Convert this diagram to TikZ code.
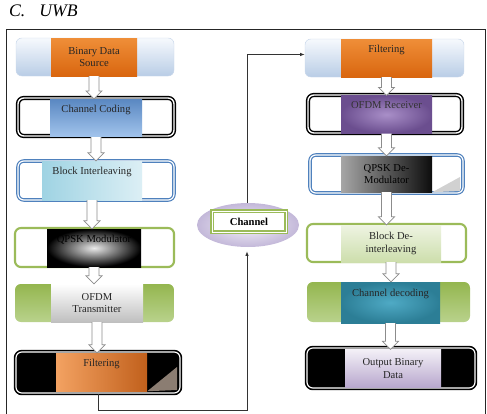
\documentclass[tikz,border=0pt]{standalone}
\usepackage{fontspec}
\setmainfont{Liberation Serif}
\usetikzlibrary{calc,shapes.geometric,arrows.meta}

\definecolor{skyhi}{HTML}{F6F9FD}
\definecolor{skylo}{HTML}{B9CDE6}
\definecolor{skyrim}{HTML}{C9D7EA}
\definecolor{orhi}{HTML}{EF8E38}
\definecolor{orlo}{HTML}{D9660F}
\definecolor{ofhi}{HTML}{F3A262}
\definecolor{oflo}{HTML}{C1601C}
\definecolor{ofold}{HTML}{8B7D72}
\definecolor{bluehi}{HTML}{5A88C2}
\definecolor{bluelo}{HTML}{A2C4EC}
\definecolor{bluerim}{HTML}{4F81BD}
\definecolor{cyanhi}{HTML}{9FD3E3}
\definecolor{cyanlo}{HTML}{DCEFF5}
\definecolor{leaf}{HTML}{9BBB59}
\definecolor{leafhi}{HTML}{94B64F}
\definecolor{leaflo}{HTML}{B9D28C}
\definecolor{leafpale}{HTML}{EEF4E2}
\definecolor{leafmid}{HTML}{CDDEAC}
\definecolor{plumhi}{HTML}{A98FC8}
\definecolor{plumlo}{HTML}{6B4E8F}
\definecolor{tealhi}{HTML}{4FAAC5}
\definecolor{teallo}{HTML}{2C7E96}
\definecolor{lavhi}{HTML}{F3F0F7}
\definecolor{lavlo}{HTML}{B8A7CD}
\definecolor{mist}{HTML}{F4F1F9}
\definecolor{mistlo}{HTML}{C3B8D9}

\begin{document}
\begin{tikzpicture}[x=0.85pt,y=-0.85pt,
    font=\fontsize{9}{10.5}\selectfont,
    px/.style 2 args={minimum width=#1*0.85pt, minimum height=#2*0.85pt},
    shell/.style={rectangle, rounded corners=5pt, inner sep=0pt},
    core/.style={rectangle, inner sep=0pt, align=center, text=black!85},
    upper/.style={text height=11pt, text depth=21pt},
    lightshell/.style={shell, top color=skyhi, bottom color=skylo, draw=skyrim},
    greenshell/.style={shell, top color=leafhi, bottom color=leaflo},
    blackring/.style={shell, fill=white, draw=black, line width=1.2pt,
        double=white, double distance=1.2pt},
    bluering/.style={shell, fill=white, draw=bluerim, line width=1pt,
        double=white, double distance=1pt},
    greenring/.style={shell, fill=white, draw=leaf, line width=1.8pt},
    blackshell/.style={shell, fill=black, draw=black, line width=1.4pt,
        double=white, double distance=1pt},
    link/.style={draw=black!80, line width=0.7pt},
    pipe/.style={draw=black!45, fill=white, line width=0.6pt},
    outline/.style={draw=black!85, line width=0.7pt}]
  \def\pipe#1#2{\draw[pipe] ($(#1.south)+(-5,0)$)
      -- ($(#1.south |- #2.north)+(-5,-8)$) -- ++(-3,0)
      -- (#1.south |- #2.north) -- ++(8,-8) -- ++(-3,0)
      -- ($(#1.south)+(5,0)$);}
  \useasboundingbox (0,0) rectangle (487,414);
  \node[anchor=base west, font=\itshape\fontsize{15}{18}\selectfont]
    (title) at (5,16) {C.\hskip 12pt UWB};
  \draw[outline] (6.5,414) -- (6.5,29.5) -- (485,29.5) -- (485,414);
  % transmitter side
  \node[lightshell, px={158}{38}] (srcbox) at (95,57) {};
  \node[core, px={86}{38}, top color=orhi, bottom color=orlo]
    (src) at (94,57) {Binary Data\\Source};
  \node[blackring, px={156}{38}] (codbox) at (96,117) {};
  \node[core, upper, px={92}{34}, top color=bluehi, bottom color=bluelo]
    (cod) at (96,118) {Channel Coding};
  \node[bluering, px={156}{39}] (intbox) at (96,180.5) {};
  \node[core, upper, px={100}{39}, left color=cyanhi, right color=cyanlo]
    (int) at (92,180.5) {Block Interleaving};
  \node[greenring, px={159}{39}] (qpskbox) at (94.5,247.5) {};
  \node[core, upper, px={94}{38}, inner color=black!8, outer color=black,
    text=black] (qpsk) at (94,248) {QPSK Modulator};
  \node[greenshell, px={159}{38}] (txbox) at (94.5,303) {};
  \node[core, px={92}{38}, top color=white, bottom color=black!25]
    (tx) at (97,303) {OFDM\\Transmitter};
  \node[blackshell, px={164}{41}] (lfbox) at (98,372.5) {};
  \node[core, upper, px={91}{38}, left color=ofhi, right color=oflo]
    (lf) at (101.5,372) {Filtering};
  \fill[ofold] (lf.south east) -- (177,367) -- (177,390) -- cycle;
  \pipe{src}{cod}
  \pipe{cod}{int}
  \pipe{int}{qpsk}
  \pipe{qpsk}{tx}
  \pipe{tx}{lf}
  % receiver side
  \node[lightshell, px={159}{38}] (rfbox) at (384.5,58) {};
  \node[core, upper, px={91}{38}, top color=orhi, bottom color=orlo]
    (rf) at (386.5,58) {Filtering};
  \node[blackring, px={154}{38}] (rxbox) at (385,114) {};
  \node[core, upper, px={91}{35}, inner color=plumhi, outer color=plumlo,
    text=black!80] (rx) at (386.5,114.5) {OFDM Receiver};
  \node[bluering, px={153}{38}] (dmbox) at (386.5,174) {};
  \node[core, px={91}{36}, left color=black!35, right color=black!95,
    text=black] (dm) at (386.5,174) {QPSK De-\\Modulator};
  \fill[black!18] (dm.south east) -- (460,177) -- (460,191) -- cycle;
  \node[greenring, px={159}{38}] (dibox) at (386.5,243) {};
  \node[core, px={100}{37}, top color=leafpale, bottom color=leafmid]
    (di) at (391,243.5) {Block De-\\interleaving};
  \node[greenshell, px={163}{40}] (dcbox) at (388.5,302) {};
  \node[core, upper, px={99}{41}, inner color=tealhi, outer color=teallo]
    (dc) at (390.5,302.5) {Channel decoding};
  \node[blackshell, px={168}{40}] (obbox) at (391,368) {};
  \node[core, px={96}{38}, top color=lavhi, bottom color=lavlo]
    (ob) at (393,368.5) {Output Binary\\Data};
  \pipe{rf}{rx}
  \pipe{rx}{dm}
  \pipe{dm}{di}
  \pipe{di}{dc}
  \pipe{dc}{ob}
  % channel
  \node[ellipse, inner sep=0pt, px={102}{44}, inner color=mist,
    outer color=mistlo] (chanbox) at (248,225) {};
  \node[rectangle, px={74}{21}, fill=white, draw=leaf, line width=1.2pt,
    double=white, double distance=0.6pt, font=\fontsize{9}{10.5}\bfseries]
    (chan) at (249,221.5) {Channel};
  \coordinate (low) at (247,410);
  \draw[link,-{Latex[length=4pt,width=3pt]}] (lfbox.south) |- (low)
    -- ($(low |- chanbox.south)+(0,4)$);
  \draw[link,-{Latex[length=4pt,width=3pt]}] (low |- chanbox.north)
    |- ([yshift=3pt]rfbox.west);
\end{tikzpicture}
\end{document}
